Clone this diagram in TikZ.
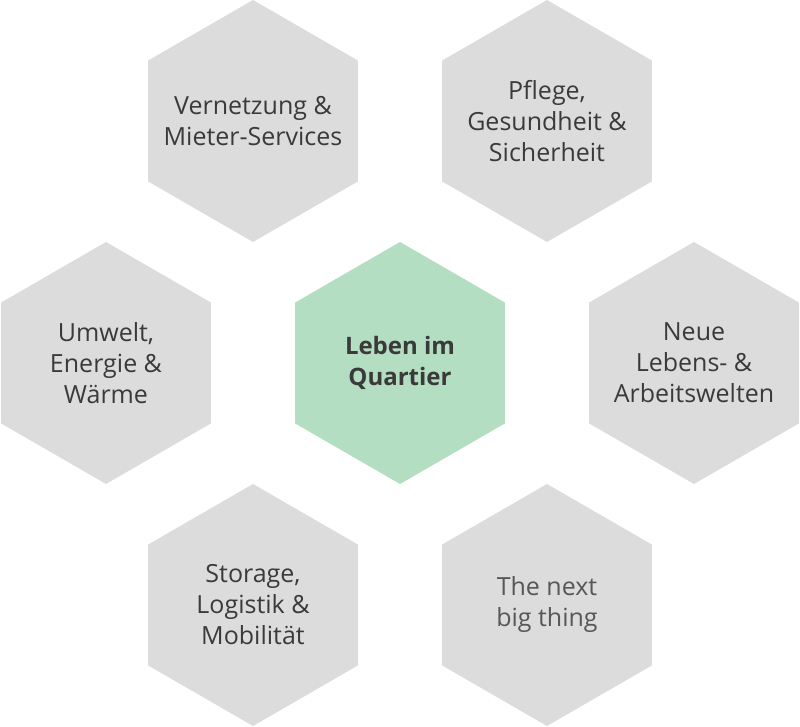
\documentclass[tikz,border=0pt]{standalone}
\usepackage{fontspec}
\setmainfont{Open Sans}[Ligatures=NoCommon]
\usetikzlibrary{shapes.geometric}
\definecolor{hexgrey}{HTML}{DCDCDC}
\definecolor{hexgreen}{HTML}{B3DEC1}
\definecolor{txt}{HTML}{3A3A3A}
\tikzset{
  hexbox/.style={regular polygon, regular polygon sides=6, shape border rotate=30,
    minimum size=242pt, inner sep=0pt, outer sep=0pt, fill=hexgrey, draw=none},
  hexgreenbox/.style={hexbox, fill=hexgreen},
  hextext/.style={align=center, text=txt, inner sep=0pt, font=\fontsize{25}{31}\selectfont},
  hexbold/.style={hextext, font=\fontsize{24}{31}\selectfont\bfseries},
  hexlight/.style={hextext, text=txt!85}
}
\begin{document}
\begin{tikzpicture}[x=1pt,y=1pt]
\useasboundingbox (0,0) rectangle (800,727);
\node[hexbox, label={[hextext]center:Vernetzung \&\\Mieter-Services}] (tl) at (253,606) {};
\node[hexbox, label={[hextext]center:Pflege,\\Gesundheit \&\\Sicherheit}] (tr) at (547,606) {};
\node[hexbox, label={[hextext]center:Umwelt,\\Energie \&\\Wärme}] (ml) at (106,364) {};
\node[hexgreenbox, label={[hexbold]center:Leben im\\Quartier}] (c) at (400,364) {};
\node[hexbox, label={[hextext]center:Neue\\Lebens- \&\\Arbeitswelten}] (mr) at (694,364) {};
\node[hexbox, label={[hextext]center:Storage,\\Logistik \&\\Mobilität}] (bl) at (253,122) {};
\node[hexbox, label={[hexlight]center:The next\\big thing}] (br) at (547,122) {};
\end{tikzpicture}
\end{document}
